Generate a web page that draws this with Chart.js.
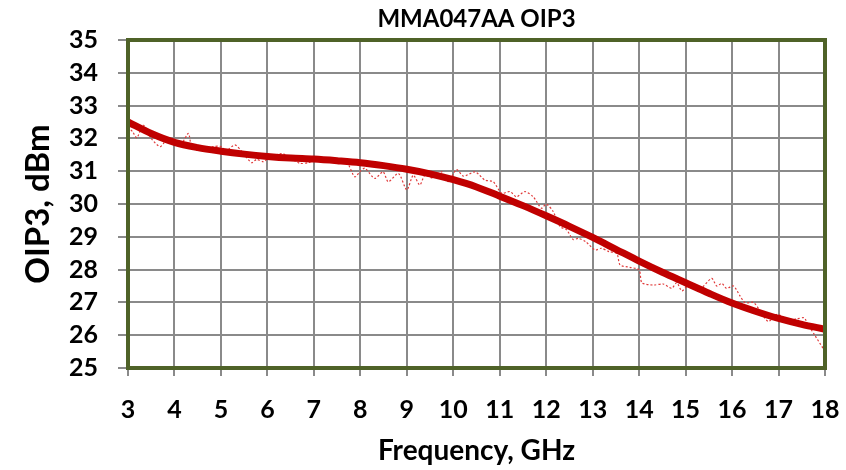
<!DOCTYPE html>
<html>
<head>
<meta charset="utf-8">
<script src="https://cdn.jsdelivr.net/npm/chart.js@4/dist/chart.umd.min.js"></script>
<style>
  html, body { margin: 0; padding: 0; background: #ffffff; }
  #wrap { width: 846px; height: 470px; }
</style>
</head>
<body>
<div id="wrap"><canvas id="c" width="846" height="470"></canvas></div>
<script>
// Fitted OIP3 curve (GHz, dBm)
const fitFreq = [3, 3.5, 4, 4.5, 5, 5.5, 6, 6.5, 7, 7.5, 8, 8.5, 9, 9.5, 10, 10.5,
                 11, 11.5, 12, 12.5, 13, 13.5, 14, 14.5, 15, 15.5, 16, 16.5, 17, 17.5, 18];
const fitOip3 = [32.5, 32.15, 31.88, 31.72, 31.61, 31.52, 31.45, 31.4, 31.37, 31.32, 31.26, 31.17,
                 31.06, 30.92, 30.74, 30.52, 30.24, 29.95, 29.64, 29.32, 28.98, 28.62, 28.26,
                 27.92, 27.6, 27.28, 26.98, 26.73, 26.51, 26.33, 26.18];

// Measured OIP3 trace (GHz, dBm)
const measFreq = [3.0, 3.1, 3.19, 3.33, 3.5, 3.69, 3.83, 4.01, 4.15, 4.3, 4.37, 4.5, 4.76, 4.83,
                  5.02, 5.09, 5.3, 5.45, 5.66, 5.77, 5.91, 6.05, 6.31, 6.5, 6.7, 6.88, 7.1, 7.3,
                  7.56, 7.7, 7.88, 8.0, 8.1, 8.31, 8.49, 8.6, 8.82, 9.0, 9.14, 9.28, 9.39, 9.55,
                  9.75, 9.89, 10.07, 10.22, 10.47, 10.68, 10.86, 11.04, 11.22, 11.36, 11.54,
                  11.72, 11.9, 12.0, 12.15, 12.3, 12.44, 12.58, 12.69, 12.85, 13.05, 13.19,
                  13.35, 13.52, 13.59, 13.8, 14.0, 14.06, 14.3, 14.52, 14.7, 14.81, 14.92,
                  15.05, 15.3, 15.56, 15.67, 15.78, 15.88, 16.03, 16.17, 16.28, 16.46, 16.6,
                  16.78, 16.97, 17.1, 17.25, 17.4, 17.55, 17.64, 17.78, 17.96, 18.0];
const measOip3 = [32.35, 32.2, 32.02, 32.4, 32.0, 31.75, 31.95, 31.97, 31.85, 32.15, 31.75, 31.7,
                  31.7, 31.75, 31.75, 31.6, 31.8, 31.6, 31.26, 31.36, 31.29, 31.42, 31.54, 31.4,
                  31.24, 31.26, 31.38, 31.32, 31.24, 31.3, 30.83, 31.0, 31.09, 30.78, 30.98,
                  30.68, 30.93, 30.43, 30.88, 30.58, 30.88, 30.8, 30.98, 30.68, 31.05, 30.85,
                  30.98, 30.73, 30.68, 30.33, 30.38, 30.22, 30.38, 30.22, 29.87, 30.0, 29.77,
                  29.31, 29.21, 28.92, 28.95, 28.85, 28.6, 28.65, 28.55, 28.49, 28.14, 28.07,
                  27.99, 27.6, 27.53, 27.56, 27.43, 27.6, 27.35, 27.5, 27.4, 27.73, 27.5, 27.58,
                  27.43, 27.5, 27.2, 26.99, 27.0, 26.75, 26.42, 26.64, 26.55, 26.48, 26.5,
                  26.53, 26.31, 26.0, 25.6, 25.55];

const chartTitle = 'MMA047AA OIP3';
const xTitle = 'Frequency, GHz';
const yTitle = 'OIP3, dBm';

const toPoints = (xs, ys) => xs.map((x, i) => ({ x: x, y: ys[i] }));

const FONT = 'Lato, "Open Sans", "DejaVu Sans", sans-serif';

// Olive frame around the plotting area
const framePlugin = {
  id: 'plotFrame',
  afterDatasetsDraw(chart) {
    const a = chart.chartArea;
    const ctx = chart.ctx;
    ctx.save();
    ctx.strokeStyle = '#4f6228';
    ctx.lineWidth = 4;
    ctx.strokeRect(a.left, a.top, a.right - a.left, a.bottom - a.top);
    ctx.restore();
  }
};

new Chart(document.getElementById('c'), {
  type: 'line',
  data: {
    datasets: [
      {
        label: 'Fit',
        data: toPoints(fitFreq, fitOip3),
        borderColor: '#c00000',
        borderWidth: 7,
        pointRadius: 0,
        cubicInterpolationMode: 'monotone',
        order: 0
      },
      {
        label: 'Measured',
        data: toPoints(measFreq, measOip3),
        borderColor: '#e03a3a',
        borderWidth: 1.2,
        borderDash: [2, 2],
        pointRadius: 0,
        tension: 0.25,
        order: 1
      }
    ]
  },
  options: {
    responsive: false,
    animation: false,
    events: [],
    layout: { padding: { left: 0, right: 21, top: 0, bottom: 0 } },
    plugins: {
      legend: { display: false },
      title: { display: false },
      tooltip: { enabled: false }
    },
    scales: {
      x: {
        type: 'linear',
        position: 'bottom',
        min: 3, max: 18,
        ticks: {
          stepSize: 1,
          autoSkip: false,
          color: '#000000',
          padding: 19,
          maxRotation: 0,
          font: { family: FONT, size: 25, weight: 'bold' }
        },
        grid: { color: '#8a8a8a', lineWidth: 2, tickLength: 8, drawOnChartArea: true },
        border: { display: false },
        title: {
          display: true,
          text: xTitle,
          color: '#000000',
          padding: { top: 0, bottom: 2 },
          font: { family: FONT, size: 28, weight: 'bold' }
        },
        afterFit(s) { s.height = 102; s.paddingLeft = 0; s.paddingRight = 0; }
      },
      x2: {
        type: 'linear',
        position: 'top',
        min: 3, max: 18,
        ticks: { display: false },
        grid: { display: false, drawTicks: false },
        border: { display: false },
        title: {
          display: true,
          text: chartTitle,
          color: '#000000',
          padding: { top: 5, bottom: 5 },
          font: { family: FONT, size: 24, weight: 'bold' }
        },
        afterFit(s) { s.height = 40; s.paddingLeft = 0; s.paddingRight = 0; }
      },
      y: {
        type: 'linear',
        position: 'left',
        min: 25, max: 35,
        ticks: {
          stepSize: 1,
          autoSkip: false,
          color: '#000000',
          padding: 20,
          font: { family: FONT, size: 25, weight: 'bold' }
        },
        grid: { color: '#8a8a8a', lineWidth: 2, tickLength: 10 },
        border: { display: false },
        title: {
          display: true,
          text: yTitle,
          color: '#000000',
          padding: { top: 19, bottom: 0 },
          font: { family: FONT, size: 33, weight: 'bold' }
        },
        afterFit(s) { s.width = 128; }
      }
    }
  },
  plugins: [framePlugin]
});
</script>
</body>
</html>
